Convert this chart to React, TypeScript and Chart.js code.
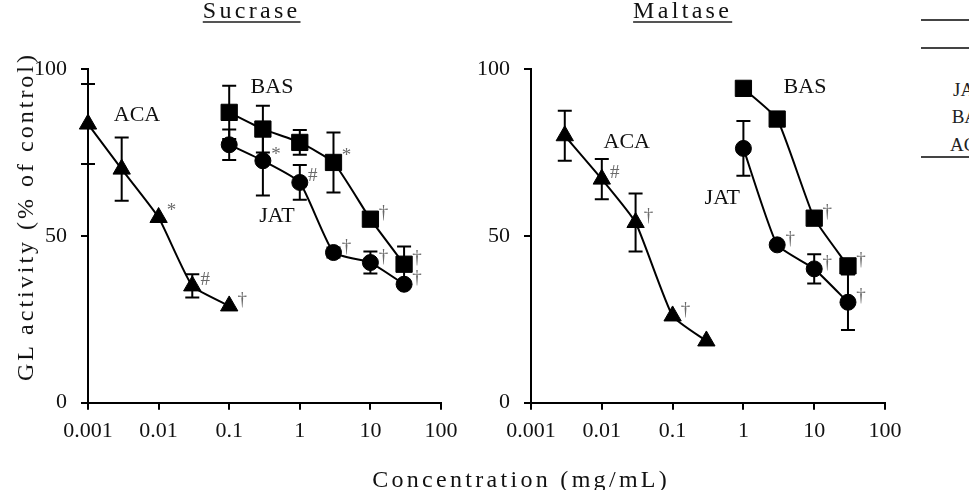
import { useEffect, useRef } from "react";
import { Chart, registerables } from "chart.js";
Chart.register(...registerables);

const FONT = '"Liberation Serif", "Times New Roman", serif';

const xTicks = [0.001, 0.01, 0.1, 1, 10, 100];
const yTicks = [0, 50, 100];

// ---- Sucrase ----
const sucACAx = [0.001, 0.003, 0.01, 0.03, 0.1];
const sucACAy = [83.5, 70, 55.5, 35, 29];
const sucACAerr = [12, 9.5, 0, 3.5, 0];
const sucACAsig = ["", "", "*", "#", "†"];

const sucBASx = [0.1, 0.3, 1, 3, 10, 30];
const sucBASy = [87, 82, 78, 72, 55, 41.5];
const sucBASerr = [8, 7, 3.7, 9, 0, 5.3];
const sucBASsig = ["", "", "", "*", "†", "†"];

const sucJATx = [0.1, 0.3, 1, 3, 10, 30];
const sucJATy = [77.3, 72.5, 66, 45, 42, 35.5];
const sucJATerr = [4.6, 10.4, 5.2, 1.5, 3.3, 0];
const sucJATsig = ["", "*", "#", "†", "†", "†"];

const sucLabelText = ["ACA", "BAS", "JAT"];
const sucLabelX = [0.00494, 0.404, 0.475];
const sucLabelY = [86.2, 94.5, 55.9];

// ---- Maltase ----
const malACAx = [0.003, 0.01, 0.03, 0.1, 0.3];
const malACAy = [80, 67, 54, 26, 18.5];
const malACAerr = [7.5, 6, 8.7, 0, 0];
const malACAsig = ["", "#", "†", "†", ""];

const malBASx = [1, 3, 10, 30];
const malBASy = [94.2, 85, 55.3, 41];
const malBASerr = [0, 0, 0, 0];
const malBASsig = ["", "", "†", "†"];

const malJATx = [1, 3, 10, 30];
const malJATy = [76.2, 47.3, 40.1, 30.1];
const malJATerr = [8.2, 0, 4.4, 8.3];
const malJATsig = ["", "†", "†", "†"];

const malLabelText = ["ACA", "BAS", "JAT"];
const malLabelX = [0.0225, 7.41, 0.504];
const malLabelY = [78.2, 94.5, 61.3];

const pts = (xs: number[], ys: number[]) => xs.map((x, i) => ({ x, y: ys[i] }));

const panelExtras = {
  id: "panelExtras",
  beforeDatasetsDraw(chart: any) {
    const { ctx } = chart;
    const xs = chart.scales.x, ys = chart.scales.y;
    ctx.save();
    ctx.strokeStyle = "#000";
    ctx.lineWidth = 2;
    chart.data.datasets.forEach((ds: any) => {
      ds.data.forEach((p: any, i: number) => {
        const e = (ds.errors && ds.errors[i]) || 0;
        if (!e) return;
        const px = xs.getPixelForValue(p.x);
        const top = ys.getPixelForValue(p.y + e);
        const bot = ys.getPixelForValue(p.y - e);
        ctx.beginPath();
        ctx.moveTo(px, top);
        ctx.lineTo(px, bot);
        ctx.moveTo(px - 7, top);
        ctx.lineTo(px + 7, top);
        ctx.moveTo(px - 7, bot);
        ctx.lineTo(px + 7, bot);
        ctx.stroke();
      });
    });
    ctx.restore();
  },
  afterDatasetsDraw(chart: any, _args: any, opts: any) {
    const { ctx } = chart;
    const xs = chart.scales.x, ys = chart.scales.y;
    ctx.save();
    ctx.textAlign = "center";
    ctx.textBaseline = "middle";
    ctx.fillStyle = "#6a6a6a";
    ctx.font = `19px ${FONT}`;
    chart.data.datasets.forEach((ds: any) => {
      ds.data.forEach((p: any, i: number) => {
        const s = ds.sig && ds.sig[i];
        if (!s) return;
        const px = xs.getPixelForValue(p.x);
        const py = ys.getPixelForValue(p.y);
        ctx.fillText(s, px + 13, py - 6);
      });
    });
    ctx.fillStyle = "#111";
    ctx.font = `22px ${FONT}`;
    const lt: string[] = opts.text || [];
    lt.forEach((t, i) => {
      ctx.fillText(t, xs.getPixelForValue(opts.x[i]), ys.getPixelForValue(opts.y[i]));
    });
    ctx.restore();
  },
};

function makeDatasets(series: any[]) {
  return series.map((s) => ({
    data: pts(s.x, s.y),
    errors: s.err,
    sig: s.sig,
    showLine: true,
    borderColor: "#000",
    borderWidth: 2,
    backgroundColor: "#000",
    pointBackgroundColor: "#000",
    pointBorderColor: "#000",
    pointBorderWidth: 1,
    pointStyle: s.style,
    pointRadius: s.r,
    tension: 0.15,
    clip: false,
  }));
}

function makeConfig(series: any[], yWidth: number, rightPad: number, labels: any) {
  const tickFont = { family: FONT, size: 22 };
  const grid = { drawOnChartArea: false, drawTicks: true, tickLength: 7, color: "#000", lineWidth: 2 };
  const border = { display: true, color: "#000", width: 2 };
  return {
    type: "scatter" as const,
    data: { datasets: makeDatasets(series) as any },
    plugins: [panelExtras],
    options: {
      responsive: false,
      animation: false as const,
      layout: { padding: { left: 0, right: rightPad, top: 69, bottom: 47.3 } },
      plugins: {
        legend: { display: false },
        tooltip: { enabled: false },
        panelExtras: labels,
      },
      scales: {
        x: {
          type: "logarithmic" as const,
          min: 0.001,
          max: 100,
          afterBuildTicks: (s: any) => {
            s.ticks = xTicks.map((v) => ({ value: v }));
          },
          afterFit: (s: any) => {
            s.height = 40;
          },
          ticks: {
            autoSkip: false,
            maxRotation: 0,
            minRotation: 0,
            padding: 8,
            color: "#111",
            font: tickFont,
            callback: (v: any) => String(v),
          },
          grid,
          border,
        },
        y: {
          type: "linear" as const,
          min: 0,
          max: 100,
          afterBuildTicks: (s: any) => {
            s.ticks = yTicks.map((v) => ({ value: v }));
          },
          afterFit: (s: any) => {
            s.width = yWidth;
          },
          ticks: { padding: 14, color: "#111", font: tickFont },
          grid,
          border,
        },
      },
    },
  };
}

export default function App() {
  const leftRef = useRef<HTMLCanvasElement>(null);
  const rightRef = useRef<HTMLCanvasElement>(null);

  useEffect(() => {
    const sucSeries = [
      { x: sucJATx, y: sucJATy, err: sucJATerr, sig: sucJATsig, style: "circle", r: 8 },
      { x: sucBASx, y: sucBASy, err: sucBASerr, sig: sucBASsig, style: "rect", r: 11.5 },
      { x: sucACAx, y: sucACAy, err: sucACAerr, sig: sucACAsig, style: "triangle", r: 10 },
    ];
    const malSeries = [
      { x: malJATx, y: malJATy, err: malJATerr, sig: malJATsig, style: "circle", r: 8 },
      { x: malBASx, y: malBASy, err: malBASerr, sig: malBASsig, style: "rect", r: 11.5 },
      { x: malACAx, y: malACAy, err: malACAerr, sig: malACAsig, style: "triangle", r: 10 },
    ];
    const c1 = new Chart(
      leftRef.current as HTMLCanvasElement,
      makeConfig(sucSeries, 88, 29, { text: sucLabelText, x: sucLabelX, y: sucLabelY }) as any
    );
    const c2 = new Chart(
      rightRef.current as HTMLCanvasElement,
      makeConfig(malSeries, 61, 35, { text: malLabelText, x: malLabelX, y: malLabelY }) as any
    );
    return () => {
      c1.destroy();
      c2.destroy();
    };
  }, []);

  const titleStyle = (cx: number): any => ({
    position: "absolute",
    left: cx - 150,
    top: -2,
    width: 300,
    textAlign: "center",
    font: `24px ${FONT}`,
    lineHeight: "24px",
    letterSpacing: "3.3px",
    paddingLeft: "3.3px",
    boxSizing: "border-box",
    color: "#111",
  });
  const underline: any = {
    textDecoration: "underline",
    textDecorationThickness: "2px",
    textUnderlineOffset: "3px",
    textDecorationColor: "#555",
  };
  const line = (y: number): any => ({
    position: "absolute",
    left: 921,
    top: y - 1,
    width: 60,
    height: 2,
    background: "#444",
  });
  const tabText = (x: number, y: number): any => ({
    position: "absolute",
    left: x,
    top: y - 11,
    font: `19px ${FONT}`,
    lineHeight: "22px",
    color: "#222",
    whiteSpace: "nowrap",
  });

  return (
    <div
      style={{
        position: "fixed",
        left: 0,
        top: 0,
        width: 969,
        height: 490,
        overflow: "hidden",
        background: "#fff",
      }}
    >
      <canvas
        ref={leftRef}
        width={470}
        height={490}
        style={{ position: "absolute", left: 0, top: 0, width: 470, height: 490 }}
      />
      <canvas
        ref={rightRef}
        width={450}
        height={490}
        style={{ position: "absolute", left: 470, top: 0, width: 450, height: 490 }}
      />
      <div style={titleStyle(250)}>
        <span style={underline}>Sucrase</span>
      </div>
      <div style={titleStyle(681)}>
        <span style={underline}>Maltase</span>
      </div>
      <div
        style={{
          position: "absolute",
          left: 25,
          top: 217.5,
          transform: "translate(-50%, -50%) rotate(-90deg)",
          font: `24px ${FONT}`,
          lineHeight: "24px",
          letterSpacing: "3px",
          paddingLeft: "3px",
          whiteSpace: "nowrap",
          color: "#111",
        }}
      >
        GL activity (% of control)
      </div>
      <div
        style={{
          position: "absolute",
          left: 519.5 - 200,
          top: 467,
          width: 400,
          textAlign: "center",
          font: `24px ${FONT}`,
          lineHeight: "24px",
          letterSpacing: "3.3px",
          paddingLeft: "3.3px",
          boxSizing: "border-box",
          whiteSpace: "nowrap",
          color: "#111",
        }}
      >
        Concentration (mg/mL)
      </div>
      <div style={line(20)} />
      <div style={line(48)} />
      <div style={line(157)} />
      <div style={tabText(953, 90)}>JAT</div>
      <div style={tabText(951.7, 117)}>BAS</div>
      <div style={tabText(950, 145)}>ACA</div>
    </div>
  );
}
